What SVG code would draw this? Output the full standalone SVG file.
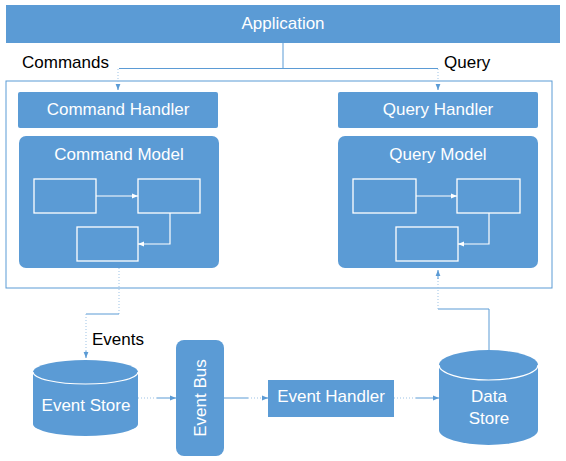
<svg xmlns="http://www.w3.org/2000/svg" width="566" height="461" viewBox="0 0 566 461">
<style>
.box{fill:#5b9bd5}
.wt{fill:#fff;font-family:"Liberation Sans",Arial,sans-serif;font-size:17px;text-anchor:middle;dominant-baseline:central}
.bt{fill:#000;font-family:"Liberation Sans",Arial,sans-serif;font-size:17px}
.in{fill:none;stroke:#fff;stroke-width:1.3}
.con{fill:none;stroke:#5b9bd5;stroke-width:1}
.faint{fill:none;stroke:#9dc3e6;stroke-width:1;stroke-dasharray:1 2}
.conw{fill:none;stroke:#fff;stroke-width:1.2}
</style>
<defs>
<marker id="ah" viewBox="0 0 10 10" refX="10" refY="5" markerWidth="6" markerHeight="6" orient="auto"><path d="M0,1 L10,5 L0,9 z" fill="#5b9bd5"/></marker>
<marker id="aw" viewBox="0 0 10 10" refX="10" refY="5" markerWidth="5" markerHeight="5" orient="auto"><path d="M0,1 L10,5 L0,9 z" fill="#fff"/></marker>
</defs>
<rect x="6" y="81" width="546" height="207" fill="none" stroke="#5b9bd5" stroke-width="1"/>
<g id="application"><rect class="box" x="6" y="5" width="554" height="38"/><text class="wt" x="283" y="23">Application</text></g>
<g id="command-handler"><rect class="box" x="18" y="92" width="200" height="36" rx="2"/><text class="wt" x="118" y="109">Command Handler</text></g>
<g id="query-handler"><rect class="box" x="338" y="92" width="200" height="36" rx="2"/><text class="wt" x="438" y="109">Query Handler</text></g>
<g id="command-model"><rect class="box" x="19" y="136" width="200" height="132" rx="7"/><text class="wt" x="119" y="154">Command Model</text>
<rect class="in" x="34" y="179" width="62" height="34"/><rect class="in" x="138" y="179" width="62" height="34"/><rect class="in" x="77" y="227" width="61" height="34"/>
<path class="conw" d="M96,196 H138" marker-end="url(#aw)"/><path class="conw" d="M170,213 V244 H138" marker-end="url(#aw)"/></g>
<g id="query-model"><rect class="box" x="338" y="136" width="200" height="132" rx="7"/><text class="wt" x="438" y="154">Query Model</text>
<rect class="in" x="353" y="179" width="63" height="34"/><rect class="in" x="457" y="179" width="63" height="34"/><rect class="in" x="396" y="227" width="62" height="34"/>
<path class="conw" d="M416,196 H457" marker-end="url(#aw)"/><path class="conw" d="M489,213 V244 H458" marker-end="url(#aw)"/></g>
<g id="event-store"><path class="box" d="M33,372 A52.5,12 0 0 1 138,372 V424 A52.5,12 0 0 1 33,424 Z"/><path d="M33,372 A52.5,12 0 0 0 138,372" fill="none" stroke="#fff" stroke-width="1.2"/><text class="wt" x="86" y="405">Event Store</text></g>
<g id="event-bus"><rect class="box" x="176" y="340" width="48" height="116" rx="8"/><text class="wt" transform="translate(200,398) rotate(-90)" x="0" y="0">Event Bus</text></g>
<g id="event-handler"><rect class="box" x="268" y="380" width="126" height="37"/><text class="wt" x="331" y="396">Event Handler</text></g>
<g id="data-store"><path class="box" d="M439,365 A49.5,15 0 0 1 538,365 V430 A49.5,15 0 0 1 439,430 Z"/><path d="M439,365 A49.5,15 0 0 0 538,365" fill="none" stroke="#fff" stroke-width="1.2"/><text class="wt" x="489" y="396">Data</text><text class="wt" x="489" y="418">Store</text></g>
<g id="connectors">
<path class="con" d="M283,43 V68"/>
<path class="con" d="M119,68.5 H438"/>
<path class="faint" d="M118,69 V85"/>
<path class="faint" d="M438,69 V85"/>
<path class="con" d="M118,84 V90" marker-end="url(#ah)"/>
<path class="con" d="M438,84 V90" marker-end="url(#ah)"/>
<path class="faint" d="M119,268 V314"/>
<path class="con" d="M119,314 H86"/>
<path class="faint" d="M86,314 V352"/>
<path class="con" d="M86,351 V358" marker-end="url(#ah)"/>
<path class="con" d="M489,350 V309 H438"/>
<path class="faint" d="M438,309 V278"/>
<path class="con" d="M438,279 V270" marker-end="url(#ah)"/>
<path class="faint" d="M138,398 H157"/>
<path class="con" d="M157,398 H176" marker-end="url(#ah)"/>
<path class="con" d="M224,398 H248"/>
<path class="faint" d="M248,398 H262"/>
<path class="con" d="M262,398 H268" marker-end="url(#ah)"/>
<path class="faint" d="M394,398 H416"/>
<path class="con" d="M416,398 H439" marker-end="url(#ah)"/>
</g>
<text class="bt" x="22" y="68">Commands</text>
<text class="bt" x="444" y="68">Query</text>
<text class="bt" x="92" y="345">Events</text>
</svg>
